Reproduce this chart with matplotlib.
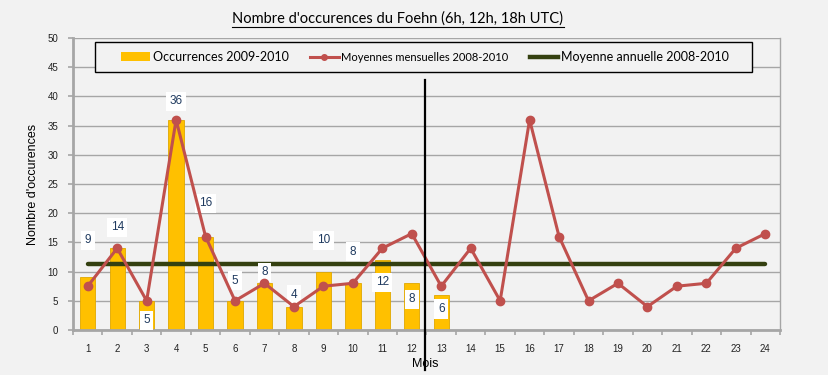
import matplotlib
matplotlib.use("Agg")
import matplotlib.pyplot as plt
from matplotlib.lines import Line2D
from matplotlib.patches import Patch, Rectangle
import matplotlib.transforms as mtransforms

# ---- data ----
months = list(range(1, 25))
month_labels = [str(m) for m in months]
occ_months = list(range(1, 14))
occurrences = [9, 14, 5, 36, 16, 5, 8, 4, 10, 8, 12, 8, 6]
monthly_means = [7.5, 14, 5, 36, 16, 5, 8, 4, 7.5, 8, 14, 16.5,
                 7.5, 14, 5, 36, 16, 5, 8, 4, 7.5, 8, 14, 16.5]
annual_mean = 11.3
# label y positions (placement only)
label_y = [15.4, 17.6, 1.7, 39.2, 21.7, 8.4, 9.9, 6.0, 15.4, 13.4, 8.2, 5.3, 3.6]

title = "Nombre d'occurences du Foehn (6h, 12h, 18h UTC)"
ylabel = "Nombre d'occurences"
xlabel = "Mois"
leg_labels = ["Occurrences 2009-2010", "Moyennes mensuelles 2008-2010",
              "Moyenne annuelle 2008-2010"]

BG = "#F2F2F2"
GRID = "#A6A6A6"
BAR = "#FFC000"
RED = "#C0504D"
GREEN = "#344010"
LBL = "#1F3A5F"

narrow = ["Lato", "DejaVu Sans"]
arial = ["Liberation Sans", "DejaVu Sans"]

W, H = 829, 375
fig = plt.figure(figsize=(W/100, H/100), dpi=100, facecolor=BG)
ax = fig.add_axes([73/W, 1-330/H, 707/W, 292/H])
ax.set_facecolor(BG)

ax.bar(occ_months, occurrences, width=0.52, color=BAR, edgecolor="#E0A800",
       linewidth=0.6, zorder=2)
ax.plot([months[0], months[-1]], [annual_mean, annual_mean], color=GREEN,
        lw=3.2, solid_capstyle="round", zorder=3)
ax.plot(months, monthly_means, color=RED, lw=2.2, marker="o", markersize=6,
        zorder=5)

for x, v, yl in zip(occ_months, occurrences, label_y):
    ax.text(x, yl, str(v), ha="center", va="center", fontsize=8.5, color=LBL,
            family=arial, zorder=4,
            bbox=dict(boxstyle="square,pad=0.3", fc="white", ec="none"))

ax.set_xlim(0.5, 24.5)
ax.set_ylim(0, 50)
ax.set_yticks(range(0, 51, 5))
ax.set_xticks(months)
ax.set_xticklabels(month_labels)
ax.set_xticks([m + 0.5 for m in range(0, 25)], minor=True)
ax.yaxis.grid(True, color=GRID, lw=1.0, zorder=0)
ax.set_axisbelow(True)
ax.tick_params(axis="x", which="major", length=0, pad=10, labelsize=7,
               labelcolor="#222222")
ax.tick_params(axis="x", which="minor", length=3.5, color=GRID, width=1.2)
ax.tick_params(axis="y", length=3.5, color=GRID, width=1.2, pad=7,
               labelsize=7, labelcolor="#222222")
for lab in ax.get_xticklabels() + ax.get_yticklabels():
    lab.set_family(arial)
ax.spines["left"].set_color(GRID)
ax.spines["left"].set_linewidth(2)
ax.spines["bottom"].set_color(GRID)
ax.spines["bottom"].set_linewidth(2)
ax.spines["right"].set_color(GRID)
ax.spines["right"].set_linewidth(1)
ax.spines["top"].set_visible(False)

# vertical separator between years
trans = mtransforms.blended_transform_factory(ax.transData, ax.transAxes)
ax.plot([12.45, 12.45], [0.856, -0.137], color="black", lw=1.6,
        transform=trans, clip_on=False, zorder=7)

# legend frame
frame = Rectangle((95/W, 1-72/H), (752-95)/W, 30/H, transform=fig.transFigure,
                  facecolor=BG, edgecolor="black", lw=1.0, zorder=8)
fig.add_artist(frame)

handles = [Patch(facecolor=BAR, edgecolor="none"),
           Line2D([], [], color=RED, lw=2.2, marker="o", markersize=4),
           Line2D([], [], color=GREEN, lw=3.2)]
leg = fig.legend(handles, leg_labels, ncol=3, loc="center",
                 bbox_to_anchor=(425/W, 1-57/H), frameon=False,
                 prop={"family": narrow, "size": 9}, handlelength=2.3,
                 handletextpad=0.2, columnspacing=1.7, borderpad=0)
leg.get_texts()[1].set_fontsize(8)
leg.set_zorder(9)

t = fig.text(398/W, 1-19/H, title, ha="center", va="center",
             fontsize=10.5, family=narrow, color="black")
fig.text(33/W, 1-184/H, ylabel, rotation=90, ha="center", va="center",
         fontsize=9, family=arial, color="black")
fig.text(425/W, 1-364/H, xlabel, ha="center", va="center",
         fontsize=9, family=arial, color="black")

# underline the title
fig.canvas.draw()
bb = t.get_window_extent(fig.canvas.get_renderer())
yline = (bb.y0 - 1) / fig.bbox.height
fig.add_artist(Line2D([bb.x0 / fig.bbox.width, bb.x1 / fig.bbox.width],
                      [yline, yline], color="black", lw=0.8,
                      transform=fig.transFigure))

fig.savefig("out.png", dpi=100, facecolor=BG)
